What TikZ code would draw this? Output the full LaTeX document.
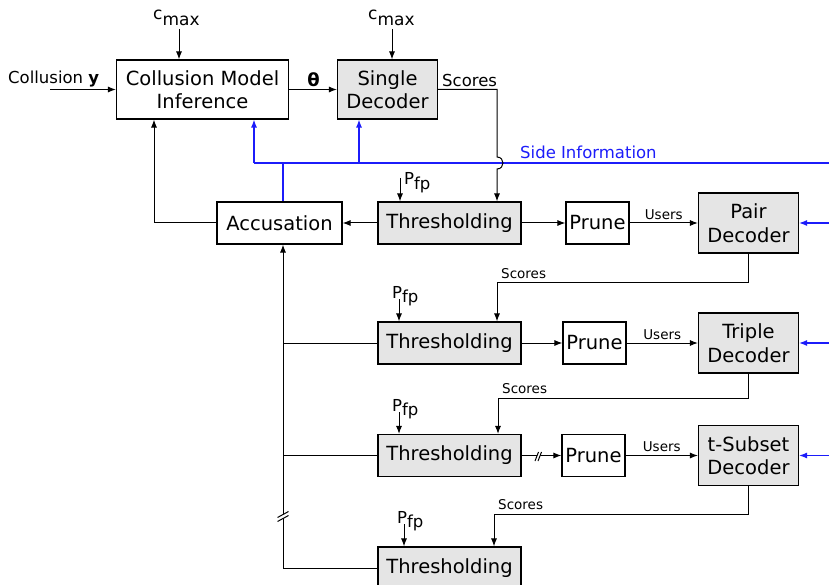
\documentclass[tikz,border=0pt]{standalone}
\usepackage{fontspec}
\setmainfont{DejaVu Sans}
\usetikzlibrary{arrows.meta}
\definecolor{sideblue}{RGB}{28,28,250}
\definecolor{boxgray}{RGB}{229,229,229}
\newcommand{\mainsz}{\fontsize{19.5}{23.5}\selectfont}
\newcommand{\midsz}{\fontsize{16.5}{19}\selectfont}
\newcommand{\smallsz}{\fontsize{13.5}{16}\selectfont}
\newcommand{\cmaxlbl}{c\raisebox{-0.3em}{max}}
\newcommand{\pfplbl}{P\raisebox{-0.3em}{fp}}
\tikzset{
  blk/.style={draw, line width=1.1pt, inner sep=0pt, font=\mainsz, align=center, minimum height=42pt},
  grayblk/.style={blk, fill=boxgray},
  arr/.style={-{Latex[length=8pt,width=6pt]}, line width=1pt},
  barr/.style={arr, draw=sideblue, line width=1.2pt},
  sideline/.style={draw=sideblue, line width=1.2pt},
  lbl/.style={inner sep=0pt, font=\midsz},
  slbl/.style={inner sep=0pt, font=\smallsz},
  brk/.style={line width=1pt}
}
\begin{document}
\begin{tikzpicture}[x=1pt,y=-1pt]
\useasboundingbox (0,0) rectangle (829,585);
% blocks
\node[blk, minimum width=172pt, minimum height=59pt] (infer) at (202.5,89.5) {Collusion Model\\Inference};
\node[grayblk, minimum width=100pt, minimum height=59pt] (single) at (387.5,89.5) {Single\\Decoder};
\node[blk, minimum width=125pt] (accuse) at (279.5,223) {Accusation};
\node[grayblk, minimum width=143pt] (thr1) at (449.5,223) {Thresholding};
\node[grayblk, minimum width=143pt] (thr2) at (449.5,343) {Thresholding};
\node[grayblk, minimum width=143pt] (thr3) at (449.5,455.5) {Thresholding};
\node[grayblk, minimum width=143pt] (thr4) at (449.5,568) {Thresholding};
\node[blk, minimum width=63pt] (prune1) at (597.5,223) {Prune};
\node[blk, minimum width=63pt] (prune2) at (594.5,343) {Prune};
\node[blk, minimum width=63pt] (prune3) at (593.5,455.5) {Prune};
\node[grayblk, minimum width=100pt, minimum height=60pt] (pair) at (748.5,223) {Pair\\Decoder};
\node[grayblk, minimum width=100pt, minimum height=60pt] (triple) at (748.5,343) {Triple\\Decoder};
\node[grayblk, minimum width=100pt, minimum height=60pt] (tsub) at (748.5,455.5) {t-Subset\\Decoder};
% inputs on top
\node[lbl, anchor=base west] (ylbl) at (8,83.5) {Collusion \textbf{y}};
\coordinate (yin) at (50,89.5);
\draw[arr] (yin) -- (yin -| infer.west);
\node[lbl, anchor=base west, font=\fontsize{17}{20}\selectfont] (cmax1) at (153,20) {\cmaxlbl};
\node[lbl, anchor=base west, font=\fontsize{17}{20}\selectfont] (cmax2) at (368,20) {\cmaxlbl};
\coordinate (c1) at (179,29);
\coordinate (c2) at (392,29);
\draw[arr] (c1) -- (c1 |- infer.north);
\draw[arr] (c2) -- (c2 |- single.north);
\draw[arr] (infer) -- (single);
\node[lbl, anchor=base, font=\fontsize{18}{20}\selectfont\bfseries] (theta) at (313.5,87) {θ};
% side information
\coordinate (sib) at (829,163);
\coordinate (sil) at (254,163);
\coordinate (sis) at (359,163);
\coordinate (sia) at (283,163);
\draw[sideline] (sib) -- (sil);
\draw[barr] (sil) -- (sil |- infer.south);
\draw[barr] (sis) -- (sis |- single.south);
\draw[sideline] (sia) -- (sia |- accuse.north);
\node[lbl, text=sideblue, anchor=base west] (sinfo) at (520,159) {Side Information};
\foreach \d in {pair,triple,tsub}
  \draw[barr] (\d.east -| sib) -- (\d.east);
% single decoder scores
\coordinate (sx) at (497,89.5);
\node[lbl, anchor=base west] (sc1) at (442,87) {Scores};
\draw[arr] (single.east) -- (sx) -- (497,157) .. controls (505,157) and (505,169) .. (497,169) -- (sx |- thr1.north);
% feedback
\coordinate (fb) at (154,223);
\draw[arr] (accuse.west) -- (fb) -- (fb |- infer.south);
\draw[arr] (thr1.west) -- (accuse.east);
% chain
\draw[arr] (thr1) -- (prune1);
\draw[arr] (thr2) -- (prune2);
\draw[arr] (thr3) -- (prune3);
\draw[arr] (prune1) -- node[slbl, above=3pt] {Users} (pair);
\draw[arr] (prune2) -- node[slbl, above=3pt] {Users} (triple);
\draw[arr] (prune3) -- node[slbl, above=3pt] {Users} (tsub);
% false positive inputs
\coordinate (p1) at (400,178);
\coordinate (p2) at (399,299);
\coordinate (p3) at (399,412);
\coordinate (p4) at (404,524);
\node[lbl, anchor=base west] (pfp1) at (404,185) {\pfplbl};
\node[lbl, anchor=base west] (pfp2) at (392,298) {\pfplbl};
\node[lbl, anchor=base west] (pfp3) at (392,411) {\pfplbl};
\node[lbl, anchor=base west] (pfp4) at (397,523) {\pfplbl};
\draw[arr] (p1) -- (p1 |- thr1.north);
\draw[arr] (p2) -- (p2 |- thr2.north);
\draw[arr] (p3) -- (p3 |- thr3.north);
\draw[arr] (p4) -- (p4 |- thr4.north);
% scores between rows
\coordinate (s2) at (497,282);
\coordinate (s3) at (498,398);
\coordinate (s4) at (494,514);
\draw[arr] (pair.south) |- (s2) -- (s2 |- thr2.north);
\draw[arr] (triple.south) |- (s3) -- (s3 |- thr3.north);
\draw[arr] (tsub.south) |- (s4) -- (s4 |- thr4.north);
\node[slbl, anchor=base west] (sc2) at (501,278) {Scores};
\node[slbl, anchor=base west] (sc3) at (502,393.5) {Scores};
\node[slbl, anchor=base west] (sc4) at (498,509.5) {Scores};
% accusation bus
\coordinate (vx) at (283,568);
\draw[arr] (thr4.west) -- (vx) -- (vx |- accuse.south);
\draw (thr2.west) -- (thr2.west -| vx);
\draw (thr3.west) -- (thr3.west -| vx);
% breaks
\fill[white] (277.5,521.5) -- (288.5,515.5) -- (288.5,511.5) -- (277.5,517.5) -- cycle;
\draw[brk] (277.5,521.5) -- (288.5,515.5) (277.5,517.5) -- (288.5,511.5);
\fill[white] (535,461) -- (538.5,452) -- (541.5,452) -- (538,461) -- cycle;
\draw[brk] (535,461) -- (538.5,452) (538,461) -- (541.5,452);
\end{tikzpicture}
\end{document}
